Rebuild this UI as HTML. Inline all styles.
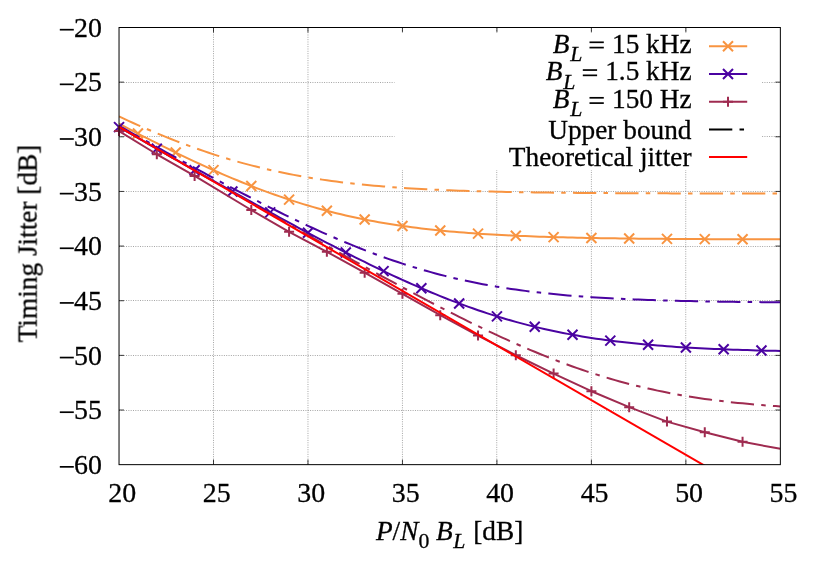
<!DOCTYPE html>
<html><head><meta charset="utf-8"><title>Timing Jitter</title>
<style>html,body{margin:0;padding:0;background:#fff;}svg{display:block;position:absolute;left:0;top:0;}text{font-family:"Liberation Serif",serif;fill:#000;stroke:#000;stroke-width:0.3px;}</style>
</head><body>
<svg width="830" height="581" viewBox="0 0 830 581">
<rect x="0" y="0" width="830" height="581" fill="#fff"/>
<g stroke="#4a4a4a" stroke-width="0.5" stroke-dasharray="1 1.33" fill="none">
<line x1="213.50" y1="27.5" x2="213.50" y2="464.65"/>
<line x1="307.98" y1="27.5" x2="307.98" y2="464.65"/>
<line x1="402.45" y1="27.5" x2="402.45" y2="464.65"/>
<line x1="496.74" y1="27.5" x2="496.74" y2="464.65"/>
<line x1="591.40" y1="27.5" x2="591.40" y2="464.65"/>
<line x1="685.74" y1="27.5" x2="685.74" y2="464.65"/>
<line x1="119.03" y1="82.50" x2="780.35" y2="82.50"/>
<line x1="119.03" y1="136.50" x2="780.35" y2="136.50"/>
<line x1="119.03" y1="191.50" x2="780.35" y2="191.50"/>
<line x1="119.03" y1="246.50" x2="780.35" y2="246.50"/>
<line x1="119.03" y1="300.50" x2="780.35" y2="300.50"/>
<line x1="119.03" y1="355.50" x2="780.35" y2="355.50"/>
<line x1="119.03" y1="410.50" x2="780.35" y2="410.50"/>
</g>
<g stroke="#000" stroke-width="0.75" fill="none">
<line x1="213.50" y1="464.65" x2="213.50" y2="459.65"/>
<line x1="213.50" y1="27.5" x2="213.50" y2="32.5"/>
<line x1="307.98" y1="464.65" x2="307.98" y2="459.65"/>
<line x1="307.98" y1="27.5" x2="307.98" y2="32.5"/>
<line x1="402.45" y1="464.65" x2="402.45" y2="459.65"/>
<line x1="402.45" y1="27.5" x2="402.45" y2="32.5"/>
<line x1="496.93" y1="464.65" x2="496.93" y2="459.65"/>
<line x1="496.93" y1="27.5" x2="496.93" y2="32.5"/>
<line x1="591.40" y1="464.65" x2="591.40" y2="459.65"/>
<line x1="591.40" y1="27.5" x2="591.40" y2="32.5"/>
<line x1="685.88" y1="464.65" x2="685.88" y2="459.65"/>
<line x1="685.88" y1="27.5" x2="685.88" y2="32.5"/>
<line x1="119.03" y1="82.14" x2="124.03" y2="82.14"/>
<line x1="780.35" y1="82.14" x2="775.35" y2="82.14"/>
<line x1="119.03" y1="136.79" x2="124.03" y2="136.79"/>
<line x1="780.35" y1="136.79" x2="775.35" y2="136.79"/>
<line x1="119.03" y1="191.43" x2="124.03" y2="191.43"/>
<line x1="780.35" y1="191.43" x2="775.35" y2="191.43"/>
<line x1="119.03" y1="246.07" x2="124.03" y2="246.07"/>
<line x1="780.35" y1="246.07" x2="775.35" y2="246.07"/>
<line x1="119.03" y1="300.72" x2="124.03" y2="300.72"/>
<line x1="780.35" y1="300.72" x2="775.35" y2="300.72"/>
<line x1="119.03" y1="355.36" x2="124.03" y2="355.36"/>
<line x1="780.35" y1="355.36" x2="775.35" y2="355.36"/>
<line x1="119.03" y1="410.01" x2="124.03" y2="410.01"/>
<line x1="780.35" y1="410.01" x2="775.35" y2="410.01"/>
</g>
<clipPath id="c"><rect x="119.03" y="27.5" width="661.32" height="437.15"/></clipPath>
<g fill="none" stroke-width="2" stroke-linejoin="round">
<path d="M119.03,123.72 L123.75,126.20 L128.48,128.68 L133.20,131.14 L137.92,133.58 L142.65,136.02 L147.37,138.43 L152.10,140.83 L156.82,143.21 L161.54,145.58 L166.27,147.92 L170.99,150.25 L175.71,152.55 L180.44,154.84 L185.16,157.10 L189.89,159.34 L194.61,161.55 L199.33,163.75 L204.06,165.91 L208.78,168.05 L213.50,170.16 L218.23,172.25 L222.95,174.30 L227.68,176.33 L232.40,178.32 L237.12,180.29 L241.85,182.22 L246.57,184.12 L251.29,185.98 L256.02,187.81 L260.74,189.61 L265.47,191.37 L270.19,193.09 L274.91,194.78 L279.64,196.43 L284.36,198.04 L289.08,199.61 L293.81,201.14 L298.53,202.64 L303.25,204.10 L307.98,205.51 L312.70,206.89 L317.43,208.23 L322.15,209.53 L326.87,210.79 L331.60,212.01 L336.32,213.19 L341.04,214.34 L345.77,215.44 L350.49,216.51 L355.22,217.54 L359.94,218.54 L364.66,219.49 L369.39,220.42 L374.11,221.31 L378.83,222.16 L383.56,222.98 L388.28,223.77 L393.01,224.52 L397.73,225.25 L402.45,225.94 L407.18,226.61 L411.90,227.24 L416.62,227.85 L421.35,228.43 L426.07,228.99 L430.80,229.52 L435.52,230.03 L440.24,230.51 L444.97,230.97 L449.69,231.41 L454.41,231.83 L459.14,232.23 L463.86,232.61 L468.58,232.97 L473.31,233.31 L478.03,233.64 L482.76,233.95 L487.48,234.25 L492.20,234.53 L496.93,234.79 L501.65,235.04 L506.37,235.28 L511.10,235.51 L515.82,235.73 L520.55,235.93 L525.27,236.12 L529.99,236.31 L534.72,236.48 L539.44,236.65 L544.16,236.80 L548.89,236.95 L553.61,237.09 L558.34,237.22 L563.06,237.35 L567.78,237.47 L572.51,237.58 L577.23,237.69 L581.95,237.79 L586.68,237.88 L591.40,237.97 L596.13,238.06 L600.85,238.14 L605.57,238.21 L610.30,238.29 L615.02,238.35 L619.74,238.42 L624.47,238.48 L629.19,238.54 L633.91,238.59 L638.64,238.64 L643.36,238.69 L648.09,238.74 L652.81,238.78 L657.53,238.82 L662.26,238.86 L666.98,238.90 L671.70,238.93 L676.43,238.96 L681.15,238.99 L685.88,239.02 L690.60,239.05 L695.32,239.08 L700.05,239.10 L704.77,239.12 L709.49,239.15 L714.22,239.17 L718.94,239.19 L723.67,239.21 L728.39,239.22 L733.11,239.24 L737.84,239.25 L742.56,239.27 L747.28,239.28 L752.01,239.30 L756.73,239.31 L761.46,239.32 L766.18,239.33 L770.90,239.34 L775.63,239.35 L780.35,239.36" stroke="#F89441" clip-path="url(#c)"/>
<path d="M132.92,128.58L142.92,138.58M132.92,138.58L142.92,128.58" stroke="#F89441"/>
<path d="M170.71,147.55L180.71,157.55M170.71,157.55L180.71,147.55" stroke="#F89441"/>
<path d="M208.50,165.16L218.50,175.16M208.50,175.16L218.50,165.16" stroke="#F89441"/>
<path d="M246.29,180.98L256.29,190.98M246.29,190.98L256.29,180.98" stroke="#F89441"/>
<path d="M284.08,194.61L294.08,204.61M284.08,204.61L294.08,194.61" stroke="#F89441"/>
<path d="M321.87,205.79L331.87,215.79M321.87,215.79L331.87,205.79" stroke="#F89441"/>
<path d="M359.66,214.49L369.66,224.49M359.66,224.49L369.66,214.49" stroke="#F89441"/>
<path d="M397.45,220.94L407.45,230.94M397.45,230.94L407.45,220.94" stroke="#F89441"/>
<path d="M435.24,225.51L445.24,235.51M435.24,235.51L445.24,225.51" stroke="#F89441"/>
<path d="M473.03,228.64L483.03,238.64M473.03,238.64L483.03,228.64" stroke="#F89441"/>
<path d="M510.82,230.73L520.82,240.73M510.82,240.73L520.82,230.73" stroke="#F89441"/>
<path d="M548.61,232.09L558.61,242.09M548.61,242.09L558.61,232.09" stroke="#F89441"/>
<path d="M586.40,232.97L596.40,242.97M586.40,242.97L596.40,232.97" stroke="#F89441"/>
<path d="M624.19,233.54L634.19,243.54M624.19,243.54L634.19,233.54" stroke="#F89441"/>
<path d="M661.98,233.90L671.98,243.90M661.98,243.90L671.98,233.90" stroke="#F89441"/>
<path d="M699.77,234.12L709.77,244.12M699.77,244.12L709.77,234.12" stroke="#F89441"/>
<path d="M737.56,234.27L747.56,244.27M737.56,244.27L747.56,234.27" stroke="#F89441"/>
<path d="M119.03,127.09 L123.75,129.79 L128.48,132.50 L133.20,135.21 L137.92,137.91 L142.65,140.61 L147.37,143.31 L152.10,146.01 L156.82,148.70 L161.54,151.40 L166.27,154.09 L170.99,156.78 L175.71,159.47 L180.44,162.15 L185.16,164.83 L189.89,167.51 L194.61,170.19 L199.33,172.86 L204.06,175.53 L208.78,178.19 L213.50,180.85 L218.23,183.51 L222.95,186.16 L227.68,188.81 L232.40,191.45 L237.12,194.09 L241.85,196.72 L246.57,199.35 L251.29,201.97 L256.02,204.59 L260.74,207.19 L265.47,209.80 L270.19,212.39 L274.91,214.97 L279.64,217.55 L284.36,220.12 L289.08,222.68 L293.81,225.23 L298.53,227.77 L303.25,230.30 L307.98,232.82 L312.70,235.33 L317.43,237.82 L322.15,240.31 L326.87,242.78 L331.60,245.23 L336.32,247.67 L341.04,250.10 L345.77,252.51 L350.49,254.90 L355.22,257.27 L359.94,259.63 L364.66,261.97 L369.39,264.28 L374.11,266.58 L378.83,268.86 L383.56,271.11 L388.28,273.34 L393.01,275.55 L397.73,277.73 L402.45,279.88 L407.18,282.01 L411.90,284.11 L416.62,286.19 L421.35,288.23 L426.07,290.24 L430.80,292.23 L435.52,294.18 L440.24,296.09 L444.97,297.98 L449.69,299.83 L454.41,301.65 L459.14,303.43 L463.86,305.17 L468.58,306.88 L473.31,308.55 L478.03,310.19 L482.76,311.78 L487.48,313.34 L492.20,314.86 L496.93,316.34 L501.65,317.78 L506.37,319.18 L511.10,320.54 L515.82,321.87 L520.55,323.15 L525.27,324.40 L529.99,325.60 L534.72,326.77 L539.44,327.90 L544.16,328.99 L548.89,330.04 L553.61,331.06 L558.34,332.04 L563.06,332.98 L567.78,333.89 L572.51,334.76 L577.23,335.60 L581.95,336.41 L586.68,337.19 L591.40,337.93 L596.13,338.64 L600.85,339.32 L605.57,339.98 L610.30,340.60 L615.02,341.20 L619.74,341.77 L624.47,342.32 L629.19,342.84 L633.91,343.34 L638.64,343.81 L643.36,344.26 L648.09,344.70 L652.81,345.11 L657.53,345.50 L662.26,345.87 L666.98,346.22 L671.70,346.56 L676.43,346.88 L681.15,347.18 L685.88,347.47 L690.60,347.75 L695.32,348.01 L700.05,348.25 L704.77,348.49 L709.49,348.71 L714.22,348.92 L718.94,349.12 L723.67,349.31 L728.39,349.49 L733.11,349.66 L737.84,349.82 L742.56,349.97 L747.28,350.12 L752.01,350.26 L756.73,350.39 L761.46,350.51 L766.18,350.63 L770.90,350.74 L775.63,350.84 L780.35,350.94" stroke="#4A03A1" clip-path="url(#c)"/>
<path d="M114.03,122.09L124.03,132.09M114.03,132.09L124.03,122.09" stroke="#4A03A1"/>
<path d="M151.82,143.70L161.82,153.70M151.82,153.70L161.82,143.70" stroke="#4A03A1"/>
<path d="M189.61,165.19L199.61,175.19M189.61,175.19L199.61,165.19" stroke="#4A03A1"/>
<path d="M227.40,186.45L237.40,196.45M227.40,196.45L237.40,186.45" stroke="#4A03A1"/>
<path d="M265.19,207.39L275.19,217.39M265.19,217.39L275.19,207.39" stroke="#4A03A1"/>
<path d="M302.98,227.82L312.98,237.82M302.98,237.82L312.98,227.82" stroke="#4A03A1"/>
<path d="M340.77,247.51L350.77,257.51M340.77,257.51L350.77,247.51" stroke="#4A03A1"/>
<path d="M378.56,266.11L388.56,276.11M378.56,276.11L388.56,266.11" stroke="#4A03A1"/>
<path d="M416.35,283.23L426.35,293.23M416.35,293.23L426.35,283.23" stroke="#4A03A1"/>
<path d="M454.14,298.43L464.14,308.43M454.14,308.43L464.14,298.43" stroke="#4A03A1"/>
<path d="M491.93,311.34L501.93,321.34M491.93,321.34L501.93,311.34" stroke="#4A03A1"/>
<path d="M529.72,321.77L539.72,331.77M529.72,331.77L539.72,321.77" stroke="#4A03A1"/>
<path d="M567.51,329.76L577.51,339.76M567.51,339.76L577.51,329.76" stroke="#4A03A1"/>
<path d="M605.30,335.60L615.30,345.60M605.30,345.60L615.30,335.60" stroke="#4A03A1"/>
<path d="M643.09,339.70L653.09,349.70M643.09,349.70L653.09,339.70" stroke="#4A03A1"/>
<path d="M680.88,342.47L690.88,352.47M680.88,352.47L690.88,342.47" stroke="#4A03A1"/>
<path d="M718.67,344.31L728.67,354.31M718.67,354.31L728.67,344.31" stroke="#4A03A1"/>
<path d="M756.46,345.51L766.46,355.51M756.46,355.51L766.46,345.51" stroke="#4A03A1"/>
<path d="M119.03,131.10 L156.82,154.27 L194.61,175.91 L251.29,210.01 L289.08,231.87 L326.87,251.76 L364.66,272.74 L402.45,293.83 L440.24,315.14 L478.03,335.58 L515.82,355.25 L553.61,373.61 L591.40,391.21 L629.19,407.16 L666.98,421.59 L704.77,432.30 L742.56,441.81 L780.35,448.80" stroke="#9F2B50" clip-path="url(#c)"/>
<path d="M114.03,131.10L124.03,131.10M119.03,126.10L119.03,136.10" stroke="#9F2B50"/>
<path d="M151.82,154.27L161.82,154.27M156.82,149.27L156.82,159.27" stroke="#9F2B50"/>
<path d="M189.61,175.91L199.61,175.91M194.61,170.91L194.61,180.91" stroke="#9F2B50"/>
<path d="M246.29,210.01L256.29,210.01M251.29,205.01L251.29,215.01" stroke="#9F2B50"/>
<path d="M284.08,231.87L294.08,231.87M289.08,226.87L289.08,236.87" stroke="#9F2B50"/>
<path d="M321.87,251.76L331.87,251.76M326.87,246.76L326.87,256.76" stroke="#9F2B50"/>
<path d="M359.66,272.74L369.66,272.74M364.66,267.74L364.66,277.74" stroke="#9F2B50"/>
<path d="M397.45,293.83L407.45,293.83M402.45,288.83L402.45,298.83" stroke="#9F2B50"/>
<path d="M435.24,315.14L445.24,315.14M440.24,310.14L440.24,320.14" stroke="#9F2B50"/>
<path d="M473.03,335.58L483.03,335.58M478.03,330.58L478.03,340.58" stroke="#9F2B50"/>
<path d="M510.82,355.25L520.82,355.25M515.82,350.25L515.82,360.25" stroke="#9F2B50"/>
<path d="M548.61,373.61L558.61,373.61M553.61,368.61L553.61,378.61" stroke="#9F2B50"/>
<path d="M586.40,391.21L596.40,391.21M591.40,386.21L591.40,396.21" stroke="#9F2B50"/>
<path d="M624.19,407.16L634.19,407.16M629.19,402.16L629.19,412.16" stroke="#9F2B50"/>
<path d="M661.98,421.59L671.98,421.59M666.98,416.59L666.98,426.59" stroke="#9F2B50"/>
<path d="M699.77,432.30L709.77,432.30M704.77,427.30L704.77,437.30" stroke="#9F2B50"/>
<path d="M737.56,441.81L747.56,441.81M742.56,436.81L742.56,446.81" stroke="#9F2B50"/>
<path d="M119.03,116.53 L123.75,118.71 L128.48,120.87 L133.20,123.00 L137.92,125.10 L142.65,127.17 L147.37,129.22 L152.10,131.23 L156.82,133.21 L161.54,135.16 L166.27,137.08 L170.99,138.97 L175.71,140.82 L180.44,142.63 L185.16,144.42 L189.89,146.16 L194.61,147.87 L199.33,149.54 L204.06,151.17 L208.78,152.77 L213.50,154.33 L218.23,155.85 L222.95,157.33 L227.68,158.77 L232.40,160.17 L237.12,161.53 L241.85,162.85 L246.57,164.14 L251.29,165.38 L256.02,166.59 L260.74,167.75 L265.47,168.88 L270.19,169.97 L274.91,171.03 L279.64,172.04 L284.36,173.02 L289.08,173.97 L293.81,174.88 L298.53,175.75 L303.25,176.59 L307.98,177.40 L312.70,178.17 L317.43,178.92 L322.15,179.63 L326.87,180.31 L331.60,180.96 L336.32,181.59 L341.04,182.19 L345.77,182.76 L350.49,183.31 L355.22,183.83 L359.94,184.32 L364.66,184.80 L369.39,185.25 L374.11,185.68 L378.83,186.09 L383.56,186.48 L388.28,186.86 L393.01,187.21 L397.73,187.55 L402.45,187.87 L407.18,188.17 L411.90,188.46 L416.62,188.73 L421.35,188.99 L426.07,189.24 L430.80,189.47 L435.52,189.70 L440.24,189.91 L444.97,190.11 L449.69,190.30 L454.41,190.48 L459.14,190.65 L463.86,190.81 L468.58,190.96 L473.31,191.11 L478.03,191.24 L482.76,191.37 L487.48,191.50 L492.20,191.61 L496.93,191.72 L501.65,191.83 L506.37,191.92 L511.10,192.02 L515.82,192.11 L520.55,192.19 L525.27,192.27 L529.99,192.34 L534.72,192.41 L539.44,192.48 L544.16,192.54 L548.89,192.60 L553.61,192.66 L558.34,192.71 L563.06,192.76 L567.78,192.81 L572.51,192.85 L577.23,192.90 L581.95,192.94 L586.68,192.97 L591.40,193.01 L596.13,193.04 L600.85,193.08 L605.57,193.11 L610.30,193.13 L615.02,193.16 L619.74,193.19 L624.47,193.21 L629.19,193.23 L633.91,193.25 L638.64,193.27 L643.36,193.29 L648.09,193.31 L652.81,193.33 L657.53,193.34 L662.26,193.36 L666.98,193.37 L671.70,193.39 L676.43,193.40 L681.15,193.41 L685.88,193.42 L690.60,193.43 L695.32,193.44 L700.05,193.45 L704.77,193.46 L709.49,193.47 L714.22,193.48 L718.94,193.49 L723.67,193.50 L728.39,193.50 L733.11,193.51 L737.84,193.51 L742.56,193.52 L747.28,193.53 L752.01,193.53 L756.73,193.54 L761.46,193.54 L766.18,193.54 L770.90,193.55 L775.63,193.55 L780.35,193.56" stroke="#F89441" stroke-dasharray="23.3 7.23 4.5 7.23" clip-path="url(#c)"/>
<path d="M119.03,125.80 L123.75,128.47 L128.48,131.13 L133.20,133.78 L137.92,136.44 L142.65,139.08 L147.37,141.73 L152.10,144.36 L156.82,147.00 L161.54,149.62 L166.27,152.25 L170.99,154.86 L175.71,157.47 L180.44,160.07 L185.16,162.66 L189.89,165.25 L194.61,167.83 L199.33,170.40 L204.06,172.96 L208.78,175.51 L213.50,178.05 L218.23,180.58 L222.95,183.10 L227.68,185.60 L232.40,188.10 L237.12,190.58 L241.85,193.05 L246.57,195.51 L251.29,197.95 L256.02,200.37 L260.74,202.78 L265.47,205.17 L270.19,207.55 L274.91,209.90 L279.64,212.24 L284.36,214.56 L289.08,216.86 L293.81,219.13 L298.53,221.38 L303.25,223.61 L307.98,225.82 L312.70,228.00 L317.43,230.16 L322.15,232.29 L326.87,234.39 L331.60,236.46 L336.32,238.50 L341.04,240.52 L345.77,242.50 L350.49,244.45 L355.22,246.37 L359.94,248.25 L364.66,250.11 L369.39,251.92 L374.11,253.70 L378.83,255.45 L383.56,257.16 L388.28,258.83 L393.01,260.46 L397.73,262.06 L402.45,263.62 L407.18,265.13 L411.90,266.61 L416.62,268.05 L421.35,269.46 L426.07,270.82 L430.80,272.14 L435.52,273.42 L440.24,274.67 L444.97,275.87 L449.69,277.04 L454.41,278.17 L459.14,279.26 L463.86,280.31 L468.58,281.33 L473.31,282.31 L478.03,283.25 L482.76,284.16 L487.48,285.04 L492.20,285.88 L496.93,286.68 L501.65,287.46 L506.37,288.20 L511.10,288.92 L515.82,289.60 L520.55,290.25 L525.27,290.88 L529.99,291.48 L534.72,292.05 L539.44,292.59 L544.16,293.11 L548.89,293.61 L553.61,294.09 L558.34,294.54 L563.06,294.97 L567.78,295.38 L572.51,295.77 L577.23,296.14 L581.95,296.50 L586.68,296.83 L591.40,297.15 L596.13,297.46 L600.85,297.75 L605.57,298.02 L610.30,298.28 L615.02,298.53 L619.74,298.76 L624.47,298.98 L629.19,299.20 L633.91,299.40 L638.64,299.58 L643.36,299.76 L648.09,299.93 L652.81,300.10 L657.53,300.25 L662.26,300.39 L666.98,300.53 L671.70,300.66 L676.43,300.78 L681.15,300.90 L685.88,301.01 L690.60,301.11 L695.32,301.21 L700.05,301.30 L704.77,301.39 L709.49,301.48 L714.22,301.56 L718.94,301.63 L723.67,301.70 L728.39,301.77 L733.11,301.83 L737.84,301.89 L742.56,301.95 L747.28,302.00 L752.01,302.05 L756.73,302.10 L761.46,302.14 L766.18,302.18 L770.90,302.22 L775.63,302.26 L780.35,302.30" stroke="#4A03A1" stroke-dasharray="23.3 7.23 4.5 7.23" clip-path="url(#c)"/>
<path d="M119.03,126.84 L123.75,129.56 L128.48,132.29 L133.20,135.01 L137.92,137.73 L142.65,140.46 L147.37,143.18 L152.10,145.90 L156.82,148.62 L161.54,151.35 L166.27,154.07 L170.99,156.79 L175.71,159.51 L180.44,162.22 L185.16,164.94 L189.89,167.66 L194.61,170.37 L199.33,173.09 L204.06,175.80 L208.78,178.52 L213.50,181.23 L218.23,183.94 L222.95,186.65 L227.68,189.36 L232.40,192.06 L237.12,194.77 L241.85,197.47 L246.57,200.17 L251.29,202.87 L256.02,205.57 L260.74,208.27 L265.47,210.96 L270.19,213.65 L274.91,216.34 L279.64,219.03 L284.36,221.71 L289.08,224.39 L293.81,227.07 L298.53,229.75 L303.25,232.42 L307.98,235.09 L312.70,237.75 L317.43,240.41 L322.15,243.07 L326.87,245.72 L331.60,248.37 L336.32,251.01 L341.04,253.65 L345.77,256.29 L350.49,258.91 L355.22,261.53 L359.94,264.15 L364.66,266.76 L369.39,269.36 L374.11,271.95 L378.83,274.54 L383.56,277.11 L388.28,279.68 L393.01,282.24 L397.73,284.79 L402.45,287.33 L407.18,289.86 L411.90,292.38 L416.62,294.89 L421.35,297.39 L426.07,299.87 L430.80,302.34 L435.52,304.79 L440.24,307.23 L444.97,309.66 L449.69,312.07 L454.41,314.46 L459.14,316.83 L463.86,319.19 L468.58,321.53 L473.31,323.85 L478.03,326.14 L482.76,328.42 L487.48,330.67 L492.20,332.90 L496.93,335.11 L501.65,337.29 L506.37,339.44 L511.10,341.57 L515.82,343.67 L520.55,345.75 L525.27,347.79 L529.99,349.80 L534.72,351.79 L539.44,353.74 L544.16,355.66 L548.89,357.54 L553.61,359.39 L558.34,361.21 L563.06,362.99 L567.78,364.74 L572.51,366.44 L577.23,368.12 L581.95,369.75 L586.68,371.35 L591.40,372.90 L596.13,374.42 L600.85,375.90 L605.57,377.34 L610.30,378.74 L615.02,380.11 L619.74,381.43 L624.47,382.71 L629.19,383.96 L633.91,385.16 L638.64,386.33 L643.36,387.46 L648.09,388.55 L652.81,389.60 L657.53,390.62 L662.26,391.60 L666.98,392.54 L671.70,393.45 L676.43,394.33 L681.15,395.17 L685.88,395.97 L690.60,396.75 L695.32,397.49 L700.05,398.20 L704.77,398.89 L709.49,399.54 L714.22,400.16 L718.94,400.76 L723.67,401.33 L728.39,401.88 L733.11,402.40 L737.84,402.90 L742.56,403.37 L747.28,403.83 L752.01,404.26 L756.73,404.67 L761.46,405.06 L766.18,405.43 L770.90,405.78 L775.63,406.12 L780.35,406.44" stroke="#9F2B50" stroke-dasharray="23.3 7.23 4.5 7.23" clip-path="url(#c)"/>
<path d="M119.03,126.95 L780.35,509.46" stroke="#FF0000" clip-path="url(#c)"/>
</g>
<rect x="394.5" y="32.5" width="367.5" height="137.5" fill="#fff"/>
<rect x="119.03" y="27.5" width="661.32" height="437.15" fill="none" stroke="#000" stroke-width="1"/>
<g font-size="27.3" style="opacity:0.999">
<text x="122.23" y="501.6" text-anchor="middle" font-size="27.9">20</text>
<text x="216.70" y="501.6" text-anchor="middle" font-size="27.9">25</text>
<text x="311.18" y="501.6" text-anchor="middle" font-size="27.9">30</text>
<text x="405.65" y="501.6" text-anchor="middle" font-size="27.9">35</text>
<text x="500.13" y="501.6" text-anchor="middle" font-size="27.9">40</text>
<text x="594.60" y="501.6" text-anchor="middle" font-size="27.9">45</text>
<text x="689.08" y="501.6" text-anchor="middle" font-size="27.9">50</text>
<text x="783.55" y="501.6" text-anchor="middle" font-size="27.9">55</text>
<text x="102.0" y="36.65" text-anchor="end" font-size="27.9">20</text>
<rect x="59.8" y="28.85" width="14" height="1.7" fill="#000"/>
<text x="102.0" y="91.29" text-anchor="end" font-size="27.9">25</text>
<rect x="59.8" y="83.49" width="14" height="1.7" fill="#000"/>
<text x="102.0" y="145.94" text-anchor="end" font-size="27.9">30</text>
<rect x="59.8" y="138.14" width="14" height="1.7" fill="#000"/>
<text x="102.0" y="200.58" text-anchor="end" font-size="27.9">35</text>
<rect x="59.8" y="192.78" width="14" height="1.7" fill="#000"/>
<text x="102.0" y="255.22" text-anchor="end" font-size="27.9">40</text>
<rect x="59.8" y="247.42" width="14" height="1.7" fill="#000"/>
<text x="102.0" y="309.87" text-anchor="end" font-size="27.9">45</text>
<rect x="59.8" y="302.07" width="14" height="1.7" fill="#000"/>
<text x="102.0" y="364.51" text-anchor="end" font-size="27.9">50</text>
<rect x="59.8" y="356.71" width="14" height="1.7" fill="#000"/>
<text x="102.0" y="419.16" text-anchor="end" font-size="27.9">55</text>
<rect x="59.8" y="411.36" width="14" height="1.7" fill="#000"/>
<text x="102.0" y="473.80" text-anchor="end" font-size="27.9">60</text>
<rect x="59.8" y="466.00" width="14" height="1.7" fill="#000"/>
<text transform="translate(36.6,243.5) rotate(-90)" text-anchor="middle">Timing Jitter [dB]</text>
<text x="449.6" y="540.3" text-anchor="middle"><tspan font-style="italic">P</tspan>/<tspan font-style="italic">N</tspan><tspan font-size="21.8" dy="8">0</tspan><tspan dy="-8"> </tspan><tspan font-style="italic">B</tspan><tspan font-style="italic" font-size="21.8" dy="8" dx="0.5">L</tspan><tspan dy="-8" dx="1"> [dB]</tspan></text>
<text x="691.6" y="52.60" text-anchor="end"><tspan font-style="italic">B</tspan><tspan font-style="italic" font-size="21.8" dx="0.8" dy="8.3">L</tspan><tspan dy="-8.3" dx="-1.1" fill="none" stroke="none"> = </tspan><tspan dx="1.75">15 kHz</tspan></text>
<text x="691.6" y="80.35" text-anchor="end"><tspan font-style="italic">B</tspan><tspan font-style="italic" font-size="21.8" dx="0.8" dy="8.3">L</tspan><tspan dy="-8.3" dx="-1.1" fill="none" stroke="none"> = </tspan><tspan dx="1.75">1.5 kHz</tspan></text>
<text x="691.6" y="108.10" text-anchor="end"><tspan font-style="italic">B</tspan><tspan font-style="italic" font-size="21.8" dx="0.8" dy="8.3">L</tspan><tspan dy="-8.3" dx="-1.1" fill="none" stroke="none"> = </tspan><tspan dx="1.75">150 Hz</tspan></text>
<rect x="589.5" y="41.45" width="14.3" height="1.7" fill="#000"/><rect x="589.5" y="46.75" width="14.3" height="1.7" fill="#000"/>
<rect x="582.8" y="69.20" width="14.3" height="1.7" fill="#000"/><rect x="582.8" y="74.50" width="14.3" height="1.7" fill="#000"/>
<rect x="589.5" y="96.95" width="14.3" height="1.7" fill="#000"/><rect x="589.5" y="102.25" width="14.3" height="1.7" fill="#000"/>
<text x="691.5" y="138.60" text-anchor="end">Upper bound</text>
<text x="691.5" y="166.10" text-anchor="end">Theoretical jitter</text>
</g>
<g fill="none" stroke-width="2">
<line x1="709.0" y1="46.2" x2="747.2" y2="46.2" stroke="#F89441"/>
<path d="M723.0,41.2L733.0,51.2M723.0,51.2L733.0,41.2" stroke="#F89441"/>
<line x1="709.0" y1="73.95" x2="747.2" y2="73.95" stroke="#4A03A1"/>
<path d="M723.0,68.95L733.0,78.95M723.0,78.95L733.0,68.95" stroke="#4A03A1"/>
<line x1="709.0" y1="101.7" x2="747.2" y2="101.7" stroke="#9F2B50"/>
<path d="M723.0,101.7L733.0,101.7M728.0,96.7L728.0,106.7" stroke="#9F2B50"/>
<line x1="709.0" y1="129.4" x2="747.2" y2="129.4" stroke="#000" stroke-dasharray="23.3 7.23 4.5 7.23"/>
<line x1="709.0" y1="157.1" x2="747.2" y2="157.1" stroke="#FF0000"/>
</g>
</svg></body></html>
